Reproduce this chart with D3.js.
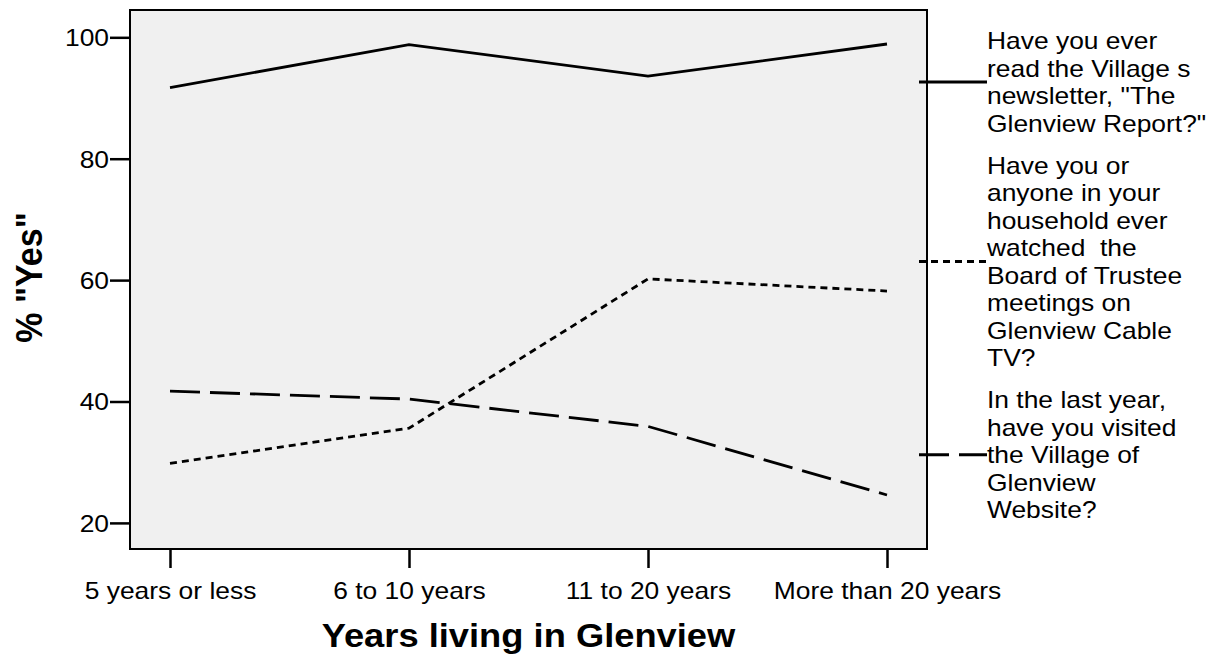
<!DOCTYPE html>
<html lang="en">
<head>
  <meta charset="UTF-8">
  <title>Years living in Glenview</title>
  <script src="https://cdn.jsdelivr.net/npm/d3@7"></script>
  <style>
    body { margin: 0; background: #fff; }
    svg text { font-family: "Liberation Sans", Arial, sans-serif; fill: #000; }
    .legend-label { white-space: pre; }
  </style>
</head>
<body>
  <svg id="chart" width="1220" height="656"></svg>

  <script>
    // values
    const categories = ["5 years or less", "6 to 10 years", "11 to 20 years", "More than 20 years"];
    const newsletter = [91.7, 98.8, 93.6, 98.9];
    const cableTv = [29.8, 35.6, 60.2, 58.2];
    const website = [41.7, 40.4, 35.9, 24.6];
    const yTicks = [20, 40, 60, 80, 100];

    const newsletterLabel = ["Have you ever", "read the Village s", "newsletter, \"The", "Glenview Report?\""];
    const cableTvLabel = ["Have you or", "anyone in your", "household ever", "watched  the",
                          "Board of Trustee", "meetings on", "Glenview Cable", "TV?"];
    const websiteLabel = ["In the last year,", "have you visited", "the Village of", "Glenview", "Website?"];

    const series = [
      { values: newsletter, label: newsletterLabel, dash: null },
      { values: cableTv, label: cableTvLabel, dash: "7,5" },
      { values: website, label: websiteLabel, dash: "30,10" }
    ];

    const plot = { left: 130, right: 927, top: 10, bottom: 549 };
    const stretchX = 1.1;   // reference text is a bit wider than Arial

    const svg = d3.select("#chart");

    const xScale = d3.scalePoint()
      .domain(categories)
      .range([plot.left + 40, plot.right - 40]);

    const yScale = d3.scaleLinear()
      .domain([15.7, 104.5])
      .range([plot.bottom, plot.top]);

    svg.append("rect")
      .attr("x", plot.left)
      .attr("y", plot.top)
      .attr("width", plot.right - plot.left)
      .attr("height", plot.bottom - plot.top)
      .attr("fill", "#f0f0f0");

    const line = d3.line()
      .x((d, i) => xScale(categories[i]))
      .y(d => yScale(d));

    svg.selectAll(".series")
      .data(series)
      .enter()
      .append("path")
      .attr("class", "series")
      .attr("d", d => line(d.values))
      .attr("fill", "none")
      .attr("stroke", "#000")
      .attr("stroke-width", 2.8)
      .attr("stroke-dasharray", d => d.dash);

    svg.append("rect")
      .attr("x", plot.left)
      .attr("y", plot.top)
      .attr("width", plot.right - plot.left)
      .attr("height", plot.bottom - plot.top)
      .attr("fill", "none")
      .attr("stroke", "#000")
      .attr("stroke-width", 2);

    const xAxis = svg.append("g")
      .attr("transform", "translate(0," + plot.bottom + ")")
      .call(d3.axisBottom(xScale).tickSize(19).tickPadding(8));

    const yAxis = svg.append("g")
      .attr("transform", "translate(" + plot.left + ",0)")
      .call(d3.axisLeft(yScale).tickValues(yTicks).tickSize(20).tickPadding(1));

    [xAxis, yAxis].forEach(ax => {
      ax.select(".domain").remove();
      ax.selectAll(".tick line").attr("stroke", "#000").attr("stroke-width", 2.5);
      ax.selectAll(".tick text").attr("font-size", 24).attr("fill", "#000");
    });
    xAxis.selectAll(".tick text").attr("dy", "0.95em");
    yAxis.selectAll(".tick text").attr("dy", "0.35em");

    // axis titles
    svg.append("text")
      .attr("x", (plot.left + plot.right) / 2)
      .attr("y", 647)
      .attr("text-anchor", "middle")
      .attr("font-size", 33)
      .attr("font-weight", "bold")
      .text("Years living in Glenview");

    svg.append("text")
      .attr("transform", "translate(42," + ((210 + 345) / 2) + ") scale(" + stretchX + ",1) rotate(-90)")
      .attr("text-anchor", "middle")
      .attr("font-size", 34)
      .attr("font-weight", "bold")
      .text("% \"Yes\"");

    // legend: each text block centred on its key line
    const lineH = 27.5;
    const gap = 14.5;
    const legendX = 987;
    let blockTop = 27;
    series.forEach(s => {
      const h = s.label.length * lineH;
      const keyY = blockTop + h / 2;
      const y0 = blockTop;
      svg.append("line")
        .attr("x1", legendX - 68)
        .attr("x2", legendX)
        .attr("y1", keyY)
        .attr("y2", keyY)
        .attr("stroke", "#000")
        .attr("stroke-width", 2.8)
        .attr("stroke-dasharray", s.dash);
      svg.selectAll(null)
        .data(s.label)
        .enter()
        .append("text")
        .attr("class", "legend-label")
        .attr("x", legendX)
        .attr("y", (d, i) => y0 + lineH * (i + 0.5))
        .attr("dy", "0.35em")
        .attr("font-size", 24)
        .text(d => d);
      blockTop += h + gap;
    });

    // widen horizontal text to match the reference
    svg.selectAll("text").each(function() {
      if (this.getAttribute("transform")) return;
      const w = this.getComputedTextLength();
      this.setAttribute("textLength", w * stretchX);
      this.setAttribute("lengthAdjust", "spacingAndGlyphs");
    });
  </script>
</body>
</html>
